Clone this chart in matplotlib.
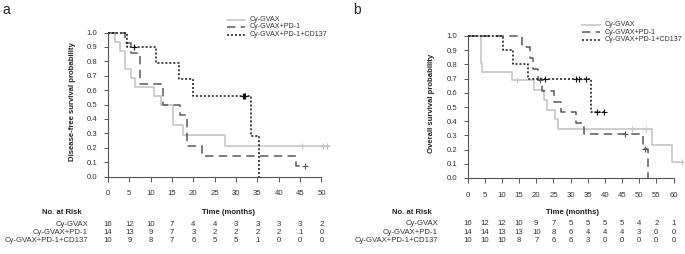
import numpy as np
import matplotlib
matplotlib.use("Agg")
import matplotlib.pyplot as plt
from matplotlib.lines import Line2D

plt.rcParams['font.family'] = ['Liberation Sans', 'DejaVu Sans']

series_names = ["Cy-GVAX", "Cy-GVAX+PD-1", "Cy-GVAX+PD-1+CD137"]

# ---- Panel a: disease-free survival ----
a_gvax_t = [1.6, 2.9, 4.0, 5.3, 6.3, 10.7, 12.4, 15.3, 17.5, 27.3]
a_gvax_s = [0.9375, 0.875, 0.75, 0.6875, 0.625, 0.5625, 0.5, 0.357, 0.286, 0.214]
a_gvax_c = [45.5, 50.4, 51.3]
a_gvax_end = 52.0

a_pd1_t = [4.0, 5.5, 7.6, 12.9, 16.8, 18.4, 22.0, 44.0]
a_pd1_s = [0.929, 0.857, 0.643, 0.5, 0.429, 0.214, 0.143, 0.071]
a_pd1_c = [46.2]
a_pd1_end = 46.2

a_cd_t = [4.5, 11.2, 16.7, 20.0, 33.5, 35.3]
a_cd_s = [0.9, 0.788, 0.675, 0.5625, 0.281, 0.0]
a_cd_c = [6.0, 31.6, 31.9, 32.2]
a_cd_end = 35.3

a_ticks = [0, 5, 10, 15, 20, 25, 30, 35, 40, 45, 50]
a_risk_gvax = [16, 12, 10, 7, 4, 4, 3, 3, 3, 3, 2]
a_risk_pd1 = [14, 13, 9, 7, 3, 2, 2, 2, 2, 1, 0]
a_risk_cd = [10, 9, 8, 7, 6, 5, 5, 1, 0, 0, 0]

# ---- Panel b: overall survival ----
b_gvax_t = [3.9, 4.3, 13.0, 19.2, 22.3, 23.0, 25.5, 26.2, 53.6, 59.5]
b_gvax_s = [0.8125, 0.75, 0.6875, 0.619, 0.55, 0.481, 0.412, 0.344, 0.229, 0.115]
b_gvax_c = [14.5, 48.0, 52.0, 62.5]
b_gvax_end = 62.5

b_pd1_t = [15.8, 18.2, 19.0, 20.5, 21.8, 25.3, 27.2, 31.5, 33.8, 51.0, 52.7]
b_pd1_s = [0.923, 0.846, 0.769, 0.692, 0.615, 0.538, 0.462, 0.385, 0.308, 0.205, 0.0]
b_pd1_c = [21.2, 46.0, 51.8]
b_pd1_end = 52.7

b_cd_t = [10.2, 13.1, 17.7, 35.9]
b_cd_s = [0.9, 0.8, 0.7, 0.467]
b_cd_c = [22.5, 31.5, 32.4, 34.4, 37.6, 39.6]
b_cd_end = 39.6

b_ticks = [0, 5, 10, 15, 20, 25, 30, 35, 40, 45, 50, 55, 60]
b_risk_gvax = [16, 12, 12, 10, 9, 7, 5, 5, 5, 5, 4, 2, 1]
b_risk_pd1 = [14, 14, 13, 13, 10, 8, 6, 4, 4, 4, 3, 0, 0]
b_risk_cd = [10, 10, 10, 8, 7, 6, 6, 3, 0, 0, 0, 0, 0]

y_ticks = [0.0, 0.1, 0.2, 0.3, 0.4, 0.5, 0.6, 0.7, 0.8, 0.9, 1.0]

W, H = 685, 254
fig = plt.figure(figsize=(W / 100, H / 100), dpi=100)

styles = [
    dict(color='#c6c6c6', lw=1.2, ls='-'),
    dict(color='#585858', lw=1.1, ls=(0, (5.5, 3.5))),
    dict(color='#111111', lw=1.1, ls=(0, (1.3, 1.3))),
]
FS = 5.6
FS_LEG = 5.1


def px_axes(left, right, top, bottom):
    return fig.add_axes([left / W, 1 - bottom / H, (right - left) / W, (bottom - top) / H])


def draw_curve(ax, t, s, c, end, st):
    x = np.concatenate([[0.0], t, [end]])
    y = np.concatenate([[1.0], s, [s[-1]]])
    ax.step(x, y, where='post', clip_on=False, color=st['color'], lw=st['lw'],
            ls=st['ls'], solid_capstyle='butt', dash_capstyle='butt')
    if len(c):
        idx = np.searchsorted(t, c, side='right')
        yy = np.concatenate([[1.0], s])[idx]
        ax.plot(c, yy, ls='none', marker='+', ms=5, mew=0.8, color=st['color'], clip_on=False)


def setup_panel(ax, xmax, xticks):
    ax.set_xlim(0, xmax)
    ax.set_ylim(0, 1.0)
    for sp in ['top', 'right']:
        ax.spines[sp].set_visible(False)
    for sp in ['left', 'bottom']:
        ax.spines[sp].set_color('#555555')
        ax.spines[sp].set_linewidth(0.8)
    ax.spines['bottom'].set_bounds(xticks[0], xticks[-1])
    ax.set_xticks(xticks)
    ax.set_xticklabels([str(v) for v in xticks])
    ax.set_yticks(y_ticks)
    ax.set_yticklabels([f"{v:.1f}" for v in y_ticks])
    ax.tick_params(axis='x', direction='out', length=3.5, width=0.7, color='#555555',
                   labelsize=FS, pad=6.5, labelcolor='#333333')
    ax.tick_params(axis='y', direction='out', length=3, width=0.7, color='#555555',
                   labelsize=FS, pad=4.5, labelcolor='#333333')
    ax.patch.set_alpha(0)


def legend(x0, y0, dy):
    for i, (name, st) in enumerate(zip(series_names, styles)):
        y = y0 + i * dy
        fig.add_artist(Line2D([x0 / W, (x0 + 18) / W], [1 - y / H, 1 - y / H],
                              color=st['color'], lw=st['lw'], ls=st['ls']))
        fig.text((x0 + 23) / W, 1 - y / H, name, fontsize=FS_LEG, va='center', ha='left',
                 color='#333333')


def risk_table(ax, ticks, rows, label_x, time_x, y_head, y_rows):
    fig.text(label_x / W, 1 - y_head / H, "No. at Risk", fontsize=FS, fontweight='bold',
             ha='right', va='center', color='#222222')
    fig.text(time_x / W, 1 - y_head / H, "Time (months)", fontsize=FS, fontweight='bold',
             ha='center', va='center', color='#222222')
    for name, vals, yr in zip(series_names, rows, y_rows):
        fig.text((label_x + 6) / W, 1 - yr / H, name, fontsize=FS, ha='right', va='center',
                 color='#333333')
        for tk, v in zip(ticks, vals):
            xd = ax.transData.transform((tk, 0))[0]
            fig.text(xd / W, 1 - yr / H, str(v), fontsize=FS,
                     ha='center', va='center', color='#333333')


# Panel a
axa = px_axes(108, 108 + 53 * 4.27, 32.5, 176.5)
setup_panel(axa, 53, a_ticks)
for (t, s, c, e), st in zip([(a_gvax_t, a_gvax_s, a_gvax_c, a_gvax_end),
                             (a_pd1_t, a_pd1_s, a_pd1_c, a_pd1_end),
                             (a_cd_t, a_cd_s, a_cd_c, a_cd_end)], styles):
    draw_curve(axa, np.array(t), np.array(s), c, e, st)
fig.text(72 / W, 1 - 102 / H, "Disease-free survival probability", rotation=90,
         fontsize=FS, fontweight='bold', ha='center', va='center', color='#222222')

# Panel b
axb = px_axes(467.7, 467.7 + 63 * 3.43, 36, 178)
setup_panel(axb, 63, b_ticks)
for (t, s, c, e), st in zip([(b_gvax_t, b_gvax_s, b_gvax_c, b_gvax_end),
                             (b_pd1_t, b_pd1_s, b_pd1_c, b_pd1_end),
                             (b_cd_t, b_cd_s, b_cd_c, b_cd_end)], styles):
    draw_curve(axb, np.array(t), np.array(s), c, e, st)
fig.text(431 / W, 1 - 103 / H, "Overall survival probability", rotation=90,
         fontsize=FS, fontweight='bold', ha='center', va='center', color='#222222')

legend(227, 19.5, 7.5)
legend(582, 24.5, 7.5)

risk_table(axa, a_ticks, [a_risk_gvax, a_risk_pd1, a_risk_cd], 82, 228, 213, [224, 232.5, 241])
risk_table(axb, b_ticks, [b_risk_gvax, b_risk_pd1, b_risk_cd], 432, 572, 213, [223.5, 232, 240.7])

fig.text(2 / W, 1 - 10 / H, "a", fontsize=10, ha='left', va='center', color='#222222')
fig.text(353 / W, 1 - 10 / H, "b", fontsize=10, ha='left', va='center', color='#222222')

fig.savefig("out.png", dpi=100)
